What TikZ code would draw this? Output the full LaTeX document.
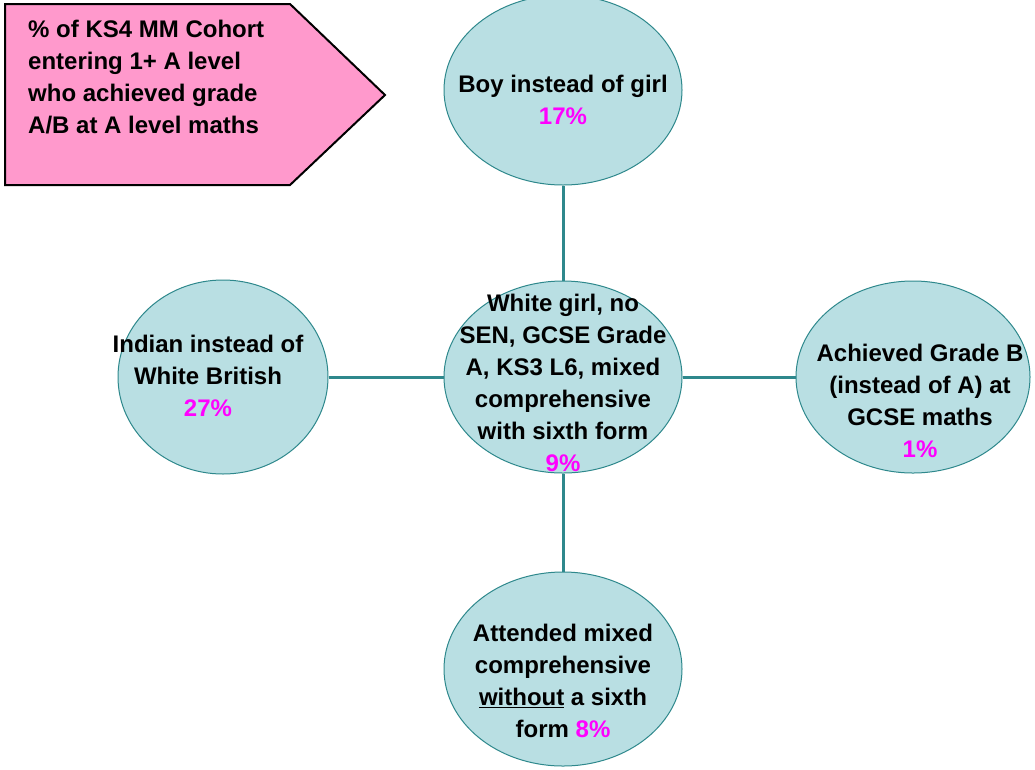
\documentclass[tikz,border=0pt]{standalone}
\usepackage{fontspec}
\setmainfont{Liberation Sans}
\usetikzlibrary{shapes.geometric}
\definecolor{pinkfill}{RGB}{255,153,204}
\definecolor{ellfill}{RGB}{185,223,227}
\definecolor{tealline}{RGB}{46,136,140}
\definecolor{mag}{RGB}{255,0,255}
\begin{document}
\begin{tikzpicture}[x=1pt,y=-1pt,
  bubble/.style={ellipse, draw=tealline, line width=1pt, fill=ellfill, inner sep=0pt},
  txt/.style={font=\bfseries\fontsize{24}{32}\selectfont, align=center, inner sep=0pt},
  link/.style={draw=tealline, line width=3pt},
  banner/.style={draw=black, line width=2pt, fill=pinkfill, line join=miter}]
\useasboundingbox (0,0) rectangle (1035,769);
\fill[white] (0,0) rectangle (1035,769);
% banner
\draw[banner] (5,4) -- (290,4) -- (385,95) -- (290,185) -- (5,185) -- cycle;
\node[txt, align=left, anchor=north west] (bannertxt) at (28,20)
  {\% of KS4 MM Cohort\\entering 1+ A level\\who achieved grade\\A/B at A level maths};
% bubbles
\node[bubble, minimum width=238, minimum height=190] (top) at (563,90) {};
\node[bubble, minimum width=238, minimum height=192] (center) at (563,377) {};
\node[bubble, minimum width=210, minimum height=194] (left) at (223,377) {};
\node[bubble, minimum width=234, minimum height=192] (right) at (913,377) {};
\node[bubble, minimum width=238, minimum height=194] (bottom) at (563,669) {};
% links
\draw[link] (top) -- (center);
\draw[link] (left) -- (center);
\draw[link] (center) -- (right);
\draw[link] (center) -- (bottom);
% texts
\node[txt] (ttop) at (563,100) {Boy instead of girl\\\textcolor{mag}{17\%}};
\node[txt] (tcenter) at (563,383) {White girl, no\\SEN, GCSE Grade\\A, KS3 L6, mixed\\comprehensive\\with sixth form\\\textcolor{mag}{9\%}};
\node[txt] (tleft) at (208,376) {Indian instead of\\White British\\\textcolor{mag}{27\%}};
\node[txt] (tright) at (920,401) {Achieved Grade B\\(instead of A) at\\GCSE maths\\\textcolor{mag}{1\%}};
\node[txt] (tbottom) at (563,681) {Attended mixed\\comprehensive\\\underline{without} a sixth\\form \textcolor{mag}{8\%}};
\end{tikzpicture}
\end{document}
